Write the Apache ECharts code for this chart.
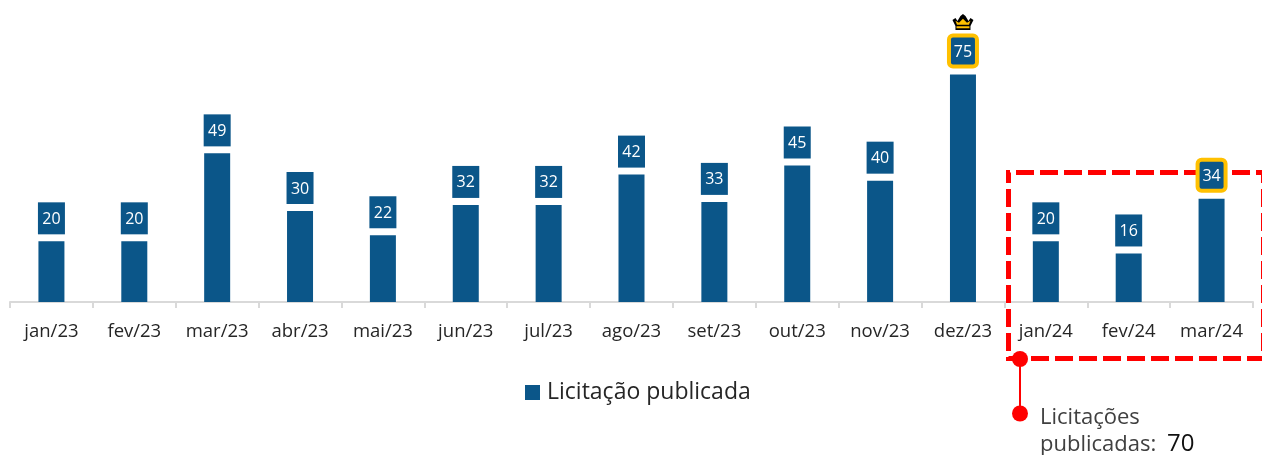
<!DOCTYPE html>
<html>
<head>
<meta charset="utf-8">
<style>
	html, body { margin: 0; padding: 0; background: #fff; }
	#chart { width: 1262px; height: 455px; }
</style>
</head>
<body>
<div id="chart"></div>
<script src="https://cdn.jsdelivr.net/npm/echarts@6/dist/echarts.min.js"></script>
<script>
var months = ['jan/23','fev/23','mar/23','abr/23','mai/23','jun/23','jul/23','ago/23','set/23','out/23','nov/23','dez/23','jan/24','fev/24','mar/24'];
var licitacoes = [20,20,49,30,22,32,32,42,33,45,40,75,20,16,34];
var destaques = ['dez/23','mar/24'];
var serieNome = 'Licitação publicada';

var fonte = '"Open Sans", sans-serif';
var azul = '#0b5689';
// coroa: contorno preto e partes douradas por cima
var coroaPreta = 'path://M0 6 L3 4 L5 7 L8 2 L10.5 0 L13 2 L16 7 L18 4 L21 6 L18 12 L18 16 L3 16 L3 12 Z';
var coroaOuro = 'path://M0 2 L3.5 4 L7.5 0 L11.5 4 L15 2 L13.5 6 L1.5 6 Z M1 7.5 L14 7.5 L14 9.5 L1 9.5 Z';

var myChart = echarts.init(document.getElementById('chart'));

var dados = months.map(function(m, i){
	var item = { value: licitacoes[i] };
	if (destaques.indexOf(m) > -1) {
		item.label = { borderColor: '#ffc000', borderWidth: 4, borderRadius: 2, width: 24, height: 27, lineHeight: 24, distance: 10 };
	}
	return item;
});

var option = {
	animation: false,
	textStyle: { fontFamily: fonte },
	grid: { left: 10, right: 9, top: 74.5, height: 227.5 },
	legend: {
		data: [serieNome],
		left: 520,
		top: 376,
		icon: 'rect',
		itemWidth: 15,
		itemHeight: 15,
		textStyle: { fontFamily: fonte, fontSize: 23, color: '#262626', padding: [0, 0, 0, 2] }
	},
	xAxis: {
		type: 'category',
		data: months,
		axisLine: { lineStyle: { color: '#d9d9d9', width: 2 } },
		axisTick: { show: true, length: 6, lineStyle: { color: '#d9d9d9', width: 2 } },
		axisLabel: { interval: 0, fontFamily: fonte, fontSize: 18.5, color: '#262626', margin: 20 }
	},
	yAxis: { type: 'value', min: 0, max: 75, show: false },
	series: [{
		name: serieNome,
		type: 'bar',
		data: dados,
		barWidth: 26,
		itemStyle: { color: azul },
		label: {
			show: true,
			position: 'top',
			distance: 7,
			color: '#fff',
			fontFamily: fonte,
			fontSize: 16,
			backgroundColor: azul,
			width: 27,
			height: 32,
			lineHeight: 30,
			align: 'center'
		},
		markPoint: {
			silent: true,
			data: [{
				coord: ['dez/23', 75],
				symbol: coroaPreta,
				symbolSize: [21, 16],
				symbolOffset: [0, -52.5],
				itemStyle: { color: '#000' },
				label: { show: false }
			}, {
				coord: ['dez/23', 75],
				symbol: coroaOuro,
				symbolSize: [15, 9.5],
				symbolOffset: [0, -51],
				itemStyle: { color: '#ffc000' },
				label: { show: false }
			}]
		}
	}],
	graphic: [
		{
			type: 'rect',
			z: 1,
			shape: { x: 1008.5, y: 172.5, width: 255, height: 186 },
			style: { fill: 'none', stroke: '#ff0000', lineWidth: 5, lineDash: [18, 6], lineDashOffset: 16.5 }
		},
		{
			type: 'line',
			z: 5,
			shape: { x1: 1020, y1: 359, x2: 1020, y2: 413.5 },
			style: { stroke: '#ff0000', lineWidth: 2 }
		},
		{
			type: 'circle',
			z: 5,
			shape: { cx: 1020, cy: 359, r: 8 },
			style: { fill: '#ff0000' }
		},
		{
			type: 'circle',
			z: 5,
			shape: { cx: 1020, cy: 413.5, r: 8 },
			style: { fill: '#ff0000' }
		},
		{
			type: 'text',
			z: 5,
			x: 1040,
			y: 404,
			style: {
				text: 'Licitações\n{a|publicadas: }{b|70}',
				font: '22px "Open Sans", sans-serif',
				fill: '#404040',
				lineHeight: 27,
				rich: {
					a: { font: '22px "Open Sans", sans-serif', fill: '#404040', lineHeight: 27 },
					b: { font: '24px "Open Sans", sans-serif', fill: '#111', lineHeight: 27, padding: [0, 0, 0, 5] }
				}
			}
		}
	]
};
myChart.setOption(option);
</script>
</body>
</html>
